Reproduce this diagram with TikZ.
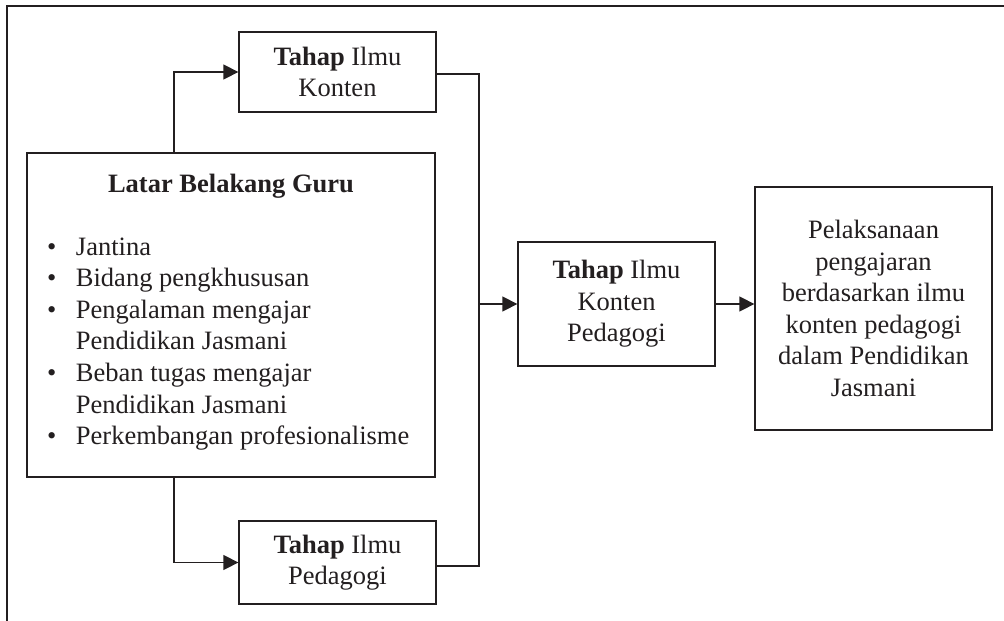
\documentclass[tikz,border=0pt]{standalone}
\usepackage{fontspec}
\setmainfont{Liberation Serif}
\usetikzlibrary{arrows.meta,calc}
\definecolor{ink}{HTML}{231F20}
\begin{document}
\begin{tikzpicture}[x=1pt,y=-1pt,
  every node/.style={text=ink,font=\fontsize{26.5}{31.6}\selectfont},
  boxn/.style={draw=ink,line width=1.3pt,inner sep=0pt,align=center},
  conn/.style={draw=ink,line width=1.4pt},
  arr/.style={conn,-{Triangle[length=15pt,width=15pt]}},
  frame/.style={draw=ink,line width=2.2pt}]
\useasboundingbox (0,0) rectangle (1004,621);
% partial outer frame
\draw[frame] (7,621) -- (7,6) -- (1004,6);
% boxes
\node[boxn,minimum width=197pt,minimum height=80pt] (kbox) at (337.5,72)
  {\textbf{Tahap} Ilmu\\Konten};
\node[boxn,minimum width=408pt,minimum height=324pt] (latar) at (231,315) {};
\node[anchor=base,inner sep=0pt] (title) at (231,192) {\textbf{Latar Belakang Guru}};
\node[anchor=base west,inner sep=0pt,align=left] (list) at (47,255)
  {\begin{tabular}[t]{@{}l@{\hspace{19.5pt}}l@{}}
   \textbullet & Jantina\\
   \textbullet & Bidang pengkhususan\\
   \textbullet & Pengalaman mengajar\\
               & Pendidikan Jasmani\\
   \textbullet & Beban tugas mengajar\\
               & Pendidikan Jasmani\\
   \textbullet & Perkembangan profesionalisme
   \end{tabular}};
\node[boxn,minimum width=197pt,minimum height=83pt] (pbox) at (337.5,562.5)
  {\textbf{Tahap} Ilmu\\Pedagogi};
\node[boxn,minimum width=197pt,minimum height=124pt] (mbox) at (616.5,304)
  {\textbf{Tahap} Ilmu\\Konten\\Pedagogi};
\node[boxn,minimum width=237pt,minimum height=243pt] (rbox) at (873.5,308.5)
  {Pelaksanaan\\pengajaran\\berdasarkan ilmu\\konten pedagogi\\dalam Pendidikan\\Jasmani};
% junction coordinates
\coordinate (jt) at (479,74);
\coordinate (jb) at (479,566);
\coordinate (ls) at (174,153);
% connectors
\draw[arr] (latar.north -| ls) |- (kbox.west);
\draw[arr] (latar.south -| ls) |- (pbox.west);
\draw[conn] (kbox.east |- jt) -- (jt) -- (jb) -- (pbox.east |- jb);
\draw[arr] (mbox.west -| jt) -- (mbox.west);
\draw[arr] (mbox.east) -- (rbox.west |- mbox.east);
\end{tikzpicture}
\end{document}
